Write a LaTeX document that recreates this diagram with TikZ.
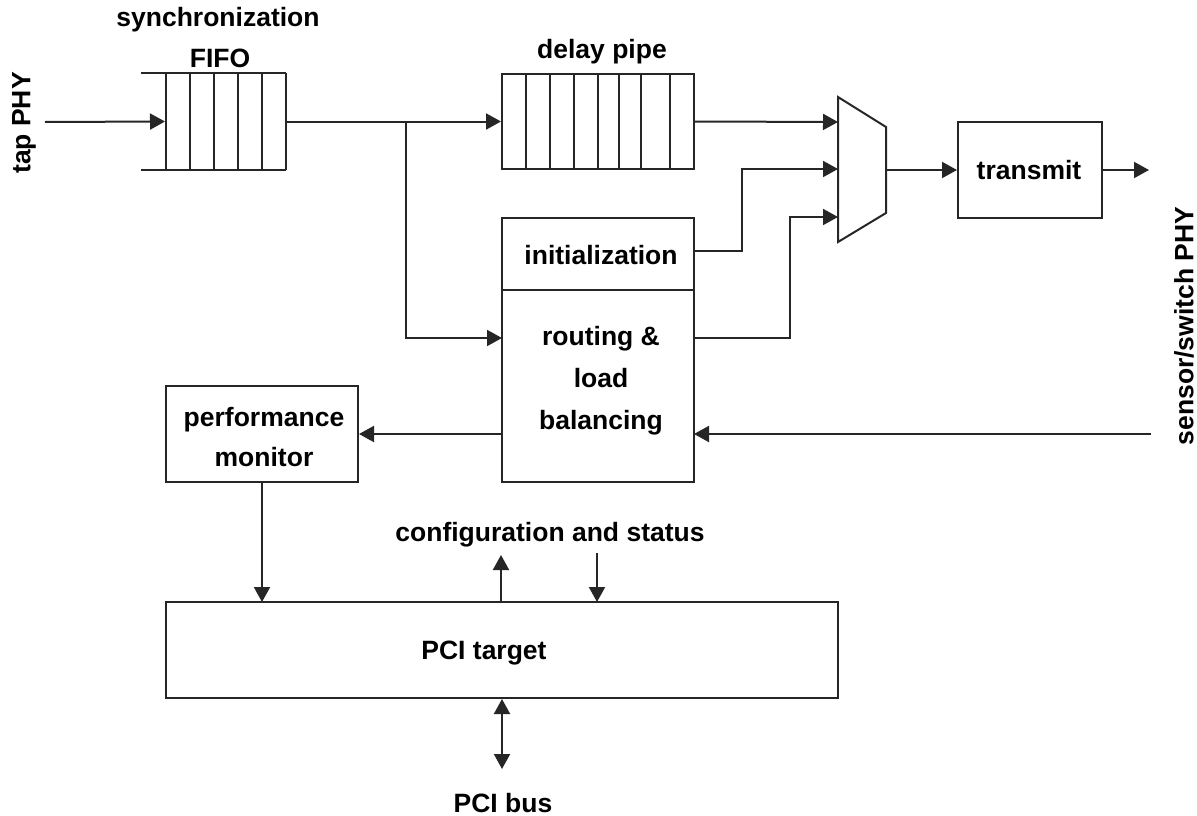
\documentclass[tikz,border=0pt]{standalone}
\usepackage{fontspec}
\setmainfont{Liberation Sans}
\usetikzlibrary{arrows.meta}
\definecolor{ln}{HTML}{262626}
\begin{document}
\begin{tikzpicture}[x=1pt,y=-1pt,
  line width=2pt, draw=ln,
  arr/.style={-{Triangle[length=15pt,width=16pt]}},
  darr/.style={{Triangle[length=15pt,width=16pt]}-{Triangle[length=15pt,width=16pt]}},
  lbl/.style={font=\fontsize{26.5}{32}\selectfont\bfseries, inner sep=0pt, text=black},
  box/.style={draw=ln, line width=2pt, inner sep=0pt, fill=none}]
\useasboundingbox (0,0) rectangle (1197,816);

% ---- blocks ----
\node[inner sep=0pt, minimum width=120pt, minimum height=97pt] (fifo) at (226,121.5) {};
\draw (141,73) -- (286,73) (141,170) -- (286,170);
\foreach \x in {166,190,214,238,262,286} \draw (\x,73) -- (\x,170);

\node[box, minimum width=192pt, minimum height=95pt] (delay) at (598,121.5) {};
\foreach \x in {526,550,574,598,619,641,670} \draw (\x,74) -- (\x,169);

\node[box, minimum width=192pt, minimum height=72pt] (init) at (598,254) {};
\node[box, minimum width=192pt, minimum height=192pt] (route) at (598,386) {};
\node[box, minimum width=192pt, minimum height=96pt] (perf) at (262,434) {};
\node[box, minimum width=144pt, minimum height=96pt] (trans) at (1030,170) {};
\node[box, minimum width=672pt, minimum height=96pt] (pci) at (502,650) {};

\draw[line join=miter] (838,97) -- (886,127) -- (886,213) -- (838,242) -- cycle;
\coordinate (mux1) at (838,122);
\coordinate (mux2) at (838,169);
\coordinate (mux3) at (838,217);
\coordinate (muxout) at (886,170);

% ---- texts ----
\node[lbl] (tsync) at (218,20) {synchronization};
\node[lbl] (tfifo) at (220,58) {FIFO};
\node[lbl] (tdelay) at (602,52) {delay pipe};
\node[lbl] (tinit) at (601,255) {initialization};
\node[lbl, align=center, font=\fontsize{26.5}{42}\selectfont\bfseries] (troute) at (601,381) {routing \&\\load\\balancing};
\node[lbl, align=center, font=\fontsize{26.5}{40}\selectfont\bfseries] (tperf) at (264,437) {performance\\monitor};
\node[lbl] (ttrans) at (1029,170) {transmit};
\node[lbl] (tpci) at (484,653) {PCI target};
\node[lbl] (tconf) at (550,535) {configuration and status};
\node[lbl] (tbus) at (503,803) {PCI bus};
\node[lbl, rotate=90] (ttap) at (24,123) {tap PHY};
\node[lbl, rotate=90] (tsens) at (1184,326) {sensor/switch PHY};

% ---- ports ----
\coordinate (tapin) at (45,122);
\coordinate (split) at (406,122);
\coordinate (routein) at (502,338);
\coordinate (routeout) at (694,338);
\coordinate (initout) at (694,251);
\coordinate (routeR) at (694,434);
\coordinate (routeL) at (502,434);
\coordinate (sens) at (1151,434);
\coordinate (txout) at (1149,170);
\coordinate (pmdown) at (262,602);
\coordinate (cfgup) at (501,555);
\coordinate (cfgup0) at (501,602);
\coordinate (cfgdn) at (597,553);
\coordinate (cfgdn0) at (597,602);
\coordinate (bus) at (502,769);

% ---- connectors ----
\draw[arr] (tapin) -- (fifo.west);
\draw[arr] (fifo.east) -- (delay.west);
\draw[arr] (split) |- (routein);
\draw[arr] (delay.east) -- (mux1);
\draw[arr] (initout) -- (742,251) |- (mux2);
\draw[arr] (routeout) -- (790,338) |- (mux3);
\draw[arr] (muxout) -- (trans.west);
\draw[arr] (trans.east) -- (txout);
\draw[arr] (sens) -- (routeR);
\draw[arr] (routeL) -- (perf.east);
\draw[arr] (perf.south) -- (pmdown);
\draw[arr] (cfgup0) -- (cfgup);
\draw[arr] (cfgdn) -- (cfgdn0);
\draw[darr] (pci.south) -- (bus);
\end{tikzpicture}
\end{document}
